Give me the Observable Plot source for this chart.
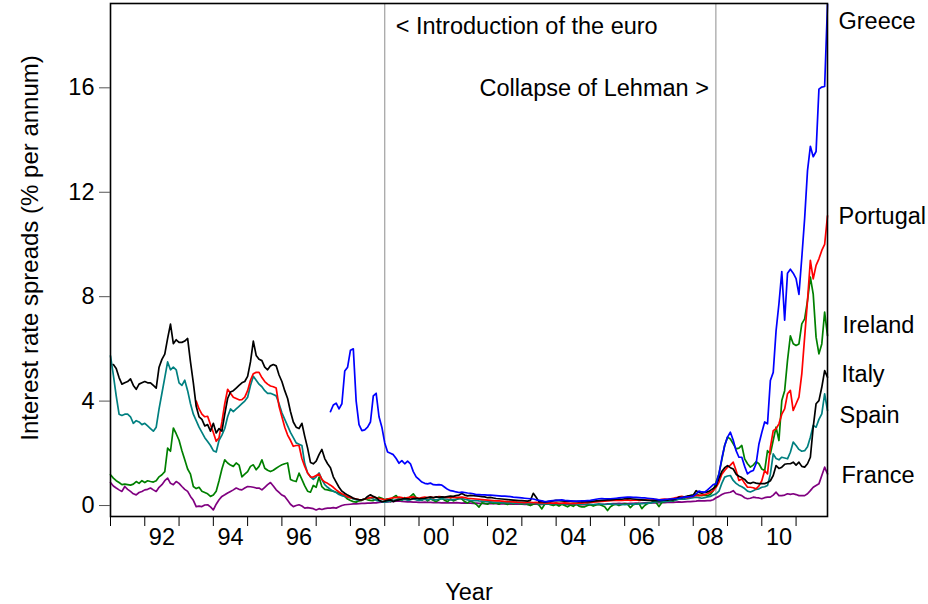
<!DOCTYPE html>
<html><head><meta charset="utf-8">
<script src="https://cdn.jsdelivr.net/npm/d3@7"></script>
<script src="https://cdn.jsdelivr.net/npm/@observablehq/plot@0.6"></script>
<style>html,body{margin:0;padding:0;background:#fff}</style>
</head><body><div id="chart"></div>
<script>
// Monthly spreads over Germany, % per annum. Month index 0 = Jan 1991.
const firstYear = 1991;
const lastMonth = 251; // Dec 2011

const italyStart = 1;
const italy = [
  5.4, 5.25, 4.9, 4.65, 4.7, 4.75, 4.85, 4.6, 4.45, 4.65, 4.7,
  4.75, 4.7, 4.7, 4.6, 4.5, 5.3, 5.6, 5.8, 6.4, 6.95, 6.2, 6.35,
  6.25, 6.25, 6.3, 6.4, 5.5, 4.7, 3.8, 3.4, 3.3, 3.05, 3.1, 2.85,
  3.15, 2.78, 2.95, 2.85, 3.5, 4.1, 4.35, 4.4, 4.5, 4.6, 4.7, 4.75,
  4.95, 5.5, 6.3, 5.75, 5.6, 5.55, 5.3, 5.2, 5.35, 5.4, 5.35, 5.0,
  4.75, 4.4, 4.1, 3.6, 3.2, 3.0, 2.95, 3.15, 2.65, 2.2, 1.65, 1.6,
  1.7, 1.95, 2.15, 1.8, 1.6, 1.45, 1.1, 0.9, 0.7, 0.55, 0.47, 0.4,
  0.35, 0.28, 0.25, 0.22, 0.22, 0.25, 0.35, 0.41, 0.35, 0.3, 0.2, 0.15,
  0.17, 0.2, 0.22, 0.15, 0.2, 0.22, 0.25, 0.27, 0.26, 0.24, 0.27, 0.28,
  0.26, 0.27, 0.28, 0.3, 0.32, 0.3, 0.33, 0.31, 0.33, 0.32, 0.34, 0.36,
  0.35, 0.38, 0.4, 0.46, 0.4, 0.37, 0.39, 0.38, 0.37, 0.36, 0.34, 0.33,
  0.3, 0.31, 0.29, 0.27, 0.26, 0.25, 0.24, 0.23, 0.22, 0.21, 0.2, 0.19,
  0.19, 0.18, 0.17, 0.2, 0.47, 0.32, 0.14, 0.16, 0.13, 0.15, 0.16, 0.18,
  0.2, 0.19, 0.18, 0.17, 0.18, 0.17, 0.16, 0.15, 0.16, 0.14, 0.15, 0.16,
  0.15, 0.17, 0.18, 0.19, 0.2, 0.21, 0.22, 0.22, 0.23, 0.24, 0.25, 0.24,
  0.26, 0.27, 0.26, 0.25, 0.24, 0.23, 0.22, 0.21, 0.2, 0.2, 0.19, 0.2,
  0.19, 0.2, 0.22, 0.21, 0.23, 0.22, 0.26, 0.32, 0.3, 0.33, 0.36, 0.38,
  0.4, 0.57, 0.5, 0.47, 0.5, 0.52, 0.58, 0.65, 0.75, 1.05, 1.3, 1.45,
  1.53, 1.45, 1.4, 1.2, 1.12, 1.07, 1.0, 0.88, 0.85, 0.89, 0.86, 0.84,
  0.84, 0.84, 0.88, 0.95, 1.15, 1.53, 1.42, 1.47, 1.58, 1.6, 1.6, 1.66,
  1.55, 1.66, 1.5, 1.47, 1.6, 1.85, 3.0, 3.9, 4.02, 4.53, 5.17, 4.92
];

const spainStart = 0;
const spain = [
  5.73, 5.0, 4.2, 3.5, 3.45, 3.5, 3.5, 3.4, 3.15, 3.25, 3.2, 3.1,
  3.15, 3.05, 2.95, 2.85, 3.0, 3.7, 4.3, 4.9, 5.5, 5.2, 5.3, 5.2,
  4.7, 4.6, 4.8, 4.4, 3.9, 3.5, 3.25, 3.0, 2.8, 2.6, 2.45, 2.3,
  2.1, 2.05, 2.5, 2.7, 2.95, 3.4, 3.7, 3.6, 3.7, 3.8, 3.9, 4.0,
  4.15, 4.6, 4.95, 4.8, 4.65, 4.55, 4.4, 4.3, 4.3, 4.25, 4.2, 3.9,
  3.55, 3.3, 3.05, 2.8, 2.6, 2.4, 2.35, 2.3, 1.6, 1.25, 1.1, 1.0,
  1.1, 1.25, 1.0, 0.8, 0.7, 0.62, 0.55, 0.5, 0.42, 0.38, 0.35, 0.32,
  0.3, 0.25, 0.22, 0.22, 0.22, 0.25, 0.28, 0.3, 0.25, 0.2, 0.18, 0.15,
  0.13, 0.15, 0.18, 0.2, 0.22, 0.25, 0.22, 0.24, 0.2, 0.22, 0.25, 0.22,
  0.2, 0.22, 0.24, 0.22, 0.25, 0.23, 0.22, 0.24, 0.26, 0.25, 0.24, 0.22,
  0.23, 0.24, 0.25, 0.27, 0.24, 0.22, 0.2, 0.19, 0.2, 0.18, 0.17, 0.16,
  0.15, 0.14, 0.13, 0.12, 0.12, 0.11, 0.12, 0.1, 0.1, 0.09, 0.1, 0.08,
  0.08, 0.07, 0.08, 0.09, 0.1, 0.08, 0.06, 0.07, 0.06, 0.07, 0.06, 0.07,
  0.08, 0.07, 0.06, 0.07, 0.08, 0.07, 0.06, 0.05, 0.06, 0.05, 0.05, 0.06,
  0.05, 0.04, 0.05, 0.06, 0.05, 0.04, 0.05, 0.06, 0.05, 0.04, 0.05, 0.04,
  0.03, 0.04, 0.05, 0.06, 0.05, 0.06, 0.07, 0.08, 0.08, 0.1, 0.12, 0.14,
  0.16, 0.15, 0.17, 0.16, 0.18, 0.2, 0.22, 0.24, 0.25, 0.24, 0.26, 0.28,
  0.3, 0.32, 0.3, 0.28, 0.3, 0.33, 0.35, 0.4, 0.45, 0.55, 0.85, 1.09,
  1.13, 1.15, 0.96, 0.85, 0.77, 0.72, 0.65, 0.55, 0.52, 0.57, 0.62, 0.64,
  0.7, 0.72, 0.77, 1.2, 1.98, 1.8, 1.75, 1.85, 1.82, 1.79, 2.04, 2.43,
  2.3, 2.15, 2.08, 2.1, 2.25, 2.62, 3.07, 3.0, 3.3, 3.51, 4.28, 3.64
];

const irelandStart = 0;
const ireland = [
  1.18, 1.05, 0.95, 0.88, 0.8, 0.82, 0.8, 0.78, 0.82, 0.92, 0.85, 0.95,
  0.88, 0.95, 0.92, 0.9, 0.95, 1.1, 1.18, 1.3, 2.2, 2.08, 2.97, 2.75,
  2.5, 2.1, 1.75, 1.4, 1.2, 0.73, 0.65, 0.7, 0.55, 0.5, 0.45, 0.35,
  0.4, 0.55, 0.95, 1.4, 1.75, 1.63, 1.55, 1.5, 1.63, 1.55, 1.1, 1.2,
  1.3, 1.5, 1.56, 1.37, 1.5, 1.75, 1.43, 1.35, 1.3, 1.35, 1.43, 1.5,
  1.56, 1.6, 1.63, 1.0, 0.95, 0.92, 1.24, 1.0, 0.75, 0.55, 0.51, 0.77,
  0.7, 1.09, 0.72, 0.62, 0.6, 0.57, 0.55, 0.51, 0.48, 0.4, 0.35, 0.25,
  0.19, 0.15, 0.13, 0.18, 0.2, 0.25, 0.22, 0.2, 0.19, 0.25, 0.32, 0.28,
  0.22, 0.26, 0.15, 0.32, 0.38, 0.25, 0.2, 0.3, 0.22, 0.35, 0.45, 0.3,
  0.25, 0.2, 0.28, 0.18, 0.25, 0.2, 0.15, 0.22, 0.28, 0.2, 0.15, 0.25,
  0.18, 0.22, 0.3, 0.25, 0.15, 0.1, 0.18, 0.12, 0.05, -0.06, 0.1, 0.08,
  0.05, 0.12, 0.08, 0.1, 0.05, 0.12, 0.08, 0.04, 0.1, 0.06, 0.12, 0.08,
  0.05, 0.1, 0.04, 0.0, 0.05, 0.1, 0.02, -0.13, 0.05, 0.08, 0.03, 0.0,
  0.04, -0.02, 0.05, 0.0, -0.05, 0.02, -0.03, 0.06, -0.02, -0.05, -0.05, 0.0,
  0.03, -0.02, 0.02, 0.04, 0.0, -0.05, -0.19, -0.05, 0.02, 0.05, 0.0, 0.04,
  0.06, 0.05, -0.08, 0.03, 0.06, 0.08, -0.12, 0.0, 0.08, 0.1, 0.15, 0.12,
  -0.04, 0.12, 0.15, 0.18, 0.2, 0.17, 0.22, 0.25, 0.3, 0.28, 0.35, 0.38,
  0.4, 0.45, 0.4, 0.38, 0.4, 0.38, 0.42, 0.57, 0.9, 1.21, 1.75, 2.3,
  2.62, 2.55, 2.36, 2.17, 2.2, 2.3, 1.79, 1.6, 1.47, 1.55, 1.68, 1.6,
  1.4, 1.34, 2.1, 1.98, 2.5, 3.0, 2.49, 4.02, 4.4, 5.56, 6.5, 6.2,
  6.13, 6.19, 6.96, 7.15, 7.85, 8.75, 8.1, 6.45, 5.81, 6.19, 7.41, 6.51
];

const portugalStart = 30;
const portugal = [
  4.0, 3.7, 3.5, 3.4, 3.42, 3.1,
  2.8, 2.46, 2.6, 3.2, 3.9, 4.45, 4.3, 4.15, 4.1, 4.05, 4.06, 4.15,
  4.4, 4.8, 5.05, 5.1, 5.1, 4.9, 4.75, 4.65, 4.58, 4.55, 4.5, 3.8,
  3.4, 3.0, 2.7, 2.5, 2.27, 2.3, 2.3, 1.8, 1.5, 1.25, 1.1, 1.09,
  1.15, 1.21, 1.0, 0.9, 0.85, 0.78, 0.7, 0.6, 0.52, 0.45, 0.4, 0.33,
  0.3, 0.28, 0.25, 0.23, 0.22, 0.25, 0.28, 0.3, 0.32, 0.3, 0.27, 0.25,
  0.22, 0.25, 0.28, 0.3, 0.3, 0.32, 0.3, 0.28, 0.3, 0.32, 0.33, 0.3,
  0.28, 0.3, 0.32, 0.3, 0.33, 0.3, 0.32, 0.34, 0.33, 0.31, 0.32, 0.3,
  0.32, 0.3, 0.31, 0.32, 0.3, 0.28, 0.27, 0.26, 0.25, 0.24, 0.23, 0.22,
  0.21, 0.2, 0.19, 0.18, 0.18, 0.17, 0.16, 0.15, 0.15, 0.14, 0.13, 0.12,
  0.12, 0.11, 0.12, 0.12, 0.11, 0.12, 0.1, 0.11, 0.1, 0.09, 0.1, 0.09,
  0.1, 0.08, 0.09, 0.1, 0.09, 0.08, 0.09, 0.08, 0.1, 0.09, 0.1, 0.11,
  0.12, 0.13, 0.14, 0.15, 0.16, 0.17, 0.18, 0.19, 0.2, 0.2, 0.21, 0.2,
  0.21, 0.22, 0.2, 0.21, 0.22, 0.2, 0.21, 0.22, 0.21, 0.2, 0.22, 0.23,
  0.22, 0.24, 0.25, 0.24, 0.26, 0.28, 0.3, 0.33, 0.35, 0.32, 0.3, 0.33,
  0.35, 0.4, 0.38, 0.4, 0.42, 0.45, 0.5, 0.57, 0.7, 0.89, 1.2, 1.34,
  1.47, 1.55, 1.66, 1.34, 0.96, 1.02, 0.85, 0.7, 0.7, 0.68, 0.64, 0.75,
  0.95, 1.34, 1.21, 2.23, 2.87, 2.94, 3.13, 3.5, 3.7, 4.28, 4.41, 3.64,
  3.9, 4.15, 5.04, 6.45, 7.85, 9.39, 8.68, 9.2, 9.45, 9.77, 10.0, 11.1
];

const greeceStart = 77;
const greece = [
  3.6, 3.85, 3.92, 3.7, 3.9, 5.15, 5.3,
  5.95, 6.0, 4.0, 3.1, 2.87, 2.9, 3.0, 3.2, 4.2, 4.3, 3.4, 3.0,
  2.4, 2.05, 2.0, 1.95, 1.8, 1.62, 1.72, 1.6, 1.7, 1.6, 1.3, 1.1,
  1.0, 0.9, 0.85, 0.83, 0.86, 0.8, 0.79, 0.8, 0.78, 0.7, 0.62, 0.57,
  0.55, 0.52, 0.5, 0.51, 0.5, 0.48, 0.47, 0.45, 0.42, 0.42, 0.41, 0.41,
  0.4, 0.4, 0.39, 0.38, 0.37, 0.36, 0.36, 0.35, 0.34, 0.32, 0.31, 0.3,
  0.29, 0.28, 0.27, 0.26, 0.25, 0.22, 0.2, 0.18, 0.15, 0.16, 0.18, 0.19,
  0.2, 0.21, 0.22, 0.2, 0.19, 0.18, 0.17, 0.17, 0.17, 0.18, 0.18, 0.19,
  0.2, 0.22, 0.24, 0.26, 0.27, 0.26, 0.26, 0.26, 0.27, 0.28, 0.29, 0.3,
  0.31, 0.32, 0.32, 0.31, 0.31, 0.3, 0.29, 0.29, 0.28, 0.27, 0.26, 0.24,
  0.22, 0.22, 0.23, 0.24, 0.25, 0.26, 0.27, 0.28, 0.3, 0.32, 0.33, 0.34,
  0.36, 0.45, 0.55, 0.52, 0.51, 0.6, 0.7, 0.8, 0.83, 1.21, 1.8, 2.3,
  2.62, 2.81, 2.5, 2.1, 1.85, 1.85, 1.5, 1.21, 1.3, 1.34, 1.6, 2.36,
  2.8, 3.2, 3.13, 4.79, 5.1, 6.7, 7.73, 8.96, 7.1, 8.9, 9.05, 8.9,
  8.69, 8.09, 9.49, 11.0, 12.83, 13.76, 13.36, 13.56, 15.95, 16.03, 16.05, 19.2
];

const franceStart = 0;
const france = [
  0.88, 0.75, 0.67, 0.6, 0.54, 0.73, 0.62, 0.54, 0.45, 0.41, 0.5, 0.54,
  0.6, 0.62, 0.67, 0.6, 0.54, 0.7, 0.8, 0.95, 1.05, 0.85, 0.8, 0.92,
  0.85, 0.73, 0.62, 0.54, 0.35, 0.2, -0.04, -0.02, -0.04, 0.02, 0.03, -0.05,
  -0.17, 0.05, 0.22, 0.35, 0.41, 0.48, 0.54, 0.6, 0.67, 0.62, 0.6, 0.67,
  0.73, 0.72, 0.7, 0.67, 0.67, 0.6, 0.7, 0.8, 0.88, 0.75, 0.6, 0.5,
  0.4, 0.35, 0.2, 0.05, -0.04, 0.0, 0.03, -0.02, -0.1, -0.08, -0.1, -0.12,
  -0.17, -0.12, -0.15, -0.12, -0.1, -0.1, -0.08, -0.1, -0.05, 0.0, 0.03, 0.04,
  0.05, 0.06, 0.06, 0.07, 0.08, 0.08, 0.09, 0.09, 0.1, 0.1, 0.12, 0.13,
  0.13, 0.14, 0.15, 0.16, 0.17, 0.18, 0.16, 0.15, 0.14, 0.14, 0.13, 0.13,
  0.12, 0.12, 0.13, 0.12, 0.12, 0.11, 0.12, 0.11, 0.1, 0.11, 0.1, 0.1,
  0.1, 0.11, 0.1, 0.09, 0.1, 0.09, 0.09, 0.08, 0.09, 0.08, 0.08, 0.07,
  0.07, 0.08, 0.07, 0.07, 0.06, 0.07, 0.06, 0.06, 0.05, 0.06, 0.05, 0.05,
  0.05, 0.04, 0.05, 0.04, 0.05, 0.05, 0.04, 0.04, 0.05, 0.05, 0.06, 0.05,
  0.06, 0.05, 0.05, 0.04, 0.05, 0.04, 0.04, 0.03, 0.04, 0.03, 0.03, 0.04,
  0.03, 0.03, 0.04, 0.04, 0.05, 0.05, 0.06, 0.06, 0.07, 0.07, 0.08, 0.07,
  0.08, 0.07, 0.08, 0.08, 0.09, 0.08, 0.09, 0.1, 0.1, 0.1, 0.11, 0.1,
  0.11, 0.12, 0.11, 0.12, 0.13, 0.12, 0.13, 0.14, 0.13, 0.14, 0.15, 0.15,
  0.16, 0.17, 0.19, 0.18, 0.18, 0.19, 0.19, 0.22, 0.3, 0.35, 0.42, 0.47,
  0.49, 0.51, 0.57, 0.45, 0.42, 0.38, 0.3, 0.26, 0.28, 0.32, 0.3, 0.29,
  0.26, 0.3, 0.32, 0.32, 0.4, 0.51, 0.38, 0.38, 0.4, 0.45, 0.43, 0.45,
  0.42, 0.38, 0.38, 0.38, 0.45, 0.57, 0.7, 0.77, 0.83, 1.15, 1.47, 1.21
];

const yTicks = [0, 4, 8, 12, 16];
const xTickYears = d3.range(1991, 2012);
const xLabelYears = [1992, 1994, 1996, 1998, 2000, 2002, 2004, 2006, 2008, 2010];
const xLabels = ["92", "94", "96", "98", "00", "02", "04", "06", "08", "10"];

const euroDate = 1999.0;     // Jan 1999
const lehmanDate = 2008.66;  // Sep 2008
const euroText = "< Introduction of the euro";
const lehmanText = "Collapse of Lehman >";

const series = [
  {name: "France",   start: franceStart,   values: france,   color: "#800080"},
  {name: "Ireland",  start: irelandStart,  values: ireland,  color: "#008000"},
  {name: "Spain",    start: spainStart,    values: spain,    color: "#008080"},
  {name: "Portugal", start: portugalStart, values: portugal, color: "#ff0000"},
  {name: "Italy",    start: italyStart,    values: italy,    color: "#000000"},
  {name: "Greece",   start: greeceStart,   values: greece,   color: "#0000ff"}
];
// end-of-line label placement (label level in % and horizontal nudge in px)
const endLabels = [
  {name: "Greece",   level: 18.56, nudge: 11},
  {name: "Portugal", level: 11.07, nudge: 11},
  {name: "Ireland",  level: 6.89,  nudge: 15},
  {name: "Italy",    level: 5.02,  nudge: 14},
  {name: "Spain",    level: 3.45,  nudge: 12},
  {name: "France",   level: 1.15,  nudge: 14}
];

const toDate = m => firstYear + m / 12;
const endDate = toDate(lastMonth);

const lineMarks = series.map(s =>
  Plot.lineY(s.values.map((v, i) => ({date: toDate(s.start + i), value: v})),
    {x: "date", y: "value", stroke: s.color, strokeWidth: 1.7})
);
const labelMarks = endLabels.map(l =>
  Plot.text([l], {x: () => endDate, y: "level", text: "name", dx: l.nudge, textAnchor: "start"})
);

const chart = Plot.plot({
  width: 928,
  height: 604,
  marginLeft: 110,
  marginRight: 101,
  marginTop: 3,
  marginBottom: 88,
  style: {fontFamily: "'Liberation Sans', Arial, sans-serif", fontSize: "23.5px", background: "#fff", color: "#000"},
  x: {domain: [firstYear, endDate]},
  y: {domain: [-0.42, 19.23]},
  marks: [
    Plot.ruleX([euroDate, lehmanDate], {stroke: "#a0a0a0", strokeWidth: 1.2}),
    ...lineMarks,
    Plot.frame({stroke: "#000", strokeWidth: 1.6}),
    Plot.axisY({ticks: yTicks, tickSize: 11, tickPadding: 5, label: null, stroke: "#555"}),
    Plot.axisX({ticks: xTickYears, tickSize: 10, tickFormat: () => "", label: null}),
    Plot.axisX({ticks: xLabelYears.map(y => y + 0.5), tickSize: 0, tickPadding: 12,
      tickFormat: d => xLabels[xLabelYears.indexOf(d - 0.5)], label: null}),
    Plot.text([euroText], {x: () => euroDate, frameAnchor: "top", lineAnchor: "middle", dy: 23, dx: 11, textAnchor: "start"}),
    Plot.text([lehmanText], {x: () => lehmanDate, frameAnchor: "top", lineAnchor: "middle", dy: 85, dx: -7, textAnchor: "end"}),
    ...labelMarks,
    Plot.text(["Year"], {frameAnchor: "bottom", lineAnchor: "middle", textAnchor: "middle", dy: 76}),
    Plot.text(["Interest rate spreads (% per annum)"], {frameAnchor: "left", textAnchor: "middle", lineAnchor: "middle", dx: -80, dy: -12, rotate: -90, fontSize: 24})
  ]
});
document.getElementById("chart").appendChild(chart);
</script>
</body></html>
